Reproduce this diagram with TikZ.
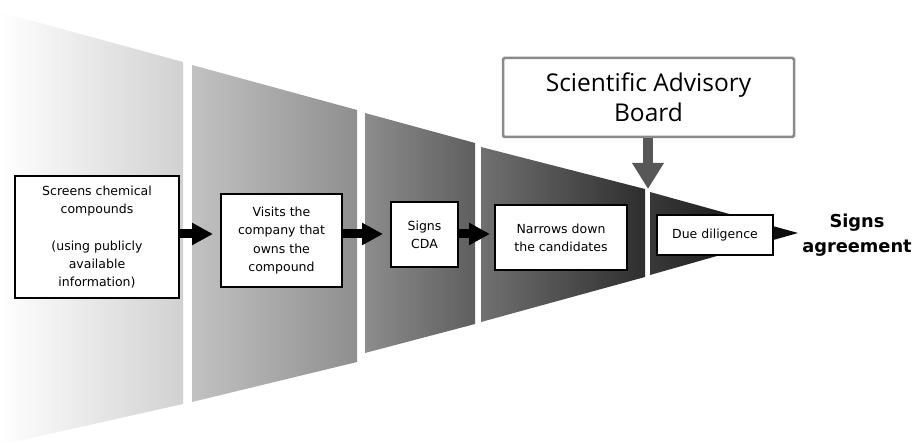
\documentclass[tikz,border=0pt]{standalone}
\usepackage{fontspec}
\setmainfont{DejaVu Sans}
\newfontfamily\sabfont{Open Sans}
\usetikzlibrary{arrows.meta}
\definecolor{sabgray}{HTML}{8A8A8A}
\definecolor{arrgray}{HTML}{575757}
\begin{document}
\begin{tikzpicture}[x=1pt,y=-1pt,
  stepbox/.style={draw=black, line width=2pt, fill=white, align=center,
    font=\fontsize{12.5}{18.3}\selectfont, inner sep=0pt},
  flow/.style={line width=9pt, -{Triangle[length=21pt,width=21pt]}},
]
\useasboundingbox (0,0) rectangle (914,446);

% funnel segments
\shade[left color=white, right color=black!18]
  (0,12) -- (183,62) -- (183,404) -- (0,445) -- cycle;
\shade[left color=black!24, right color=black!44]
  (192,65) -- (357,110) -- (357,362) -- (192,402) -- cycle;
\shade[left color=black!45, right color=black!63]
  (365,113) -- (475,143) -- (475,324) -- (365,353) -- cycle;
\shade[left color=black!56, right color=black!82]
  (481,147) -- (645,189) -- (645,277) -- (481,322) -- cycle;
\shade[left color=black!78, right color=black!97]
  (650,192) -- (798,233) -- (650,275) -- cycle;

% boxes
\node[stepbox, minimum width=164pt, minimum height=122pt] (b1) at (97,237)
  {Screens chemical\\compounds\\[18.3pt](using publicly\\available\\information)};
\node[stepbox, minimum width=121pt, minimum height=93pt] (b2) at (281.5,240.5)
  {Visits the\\company that\\owns the\\compound};
\node[stepbox, minimum width=67pt, minimum height=65pt] (b3) at (424.5,234.5)
  {Signs\\CDA};
\node[stepbox, minimum width=132pt, minimum height=65pt] (b4) at (561,237.5)
  {Narrows down\\the candidates};
\node[stepbox, minimum width=116pt, minimum height=40pt] (b5) at (715,235)
  {Due diligence};

\node[draw=sabgray, line width=2.5pt, rounded corners=1.5pt, fill=white,
  minimum width=291pt, minimum height=79pt, align=center, inner sep=0pt,
  font=\sabfont\fontsize{24.5}{30}\selectfont] (sab) at (648.5,97.5)
  {Scientific Advisory\\Board};

\node[align=center, font=\bfseries\fontsize{17.8}{25}\selectfont] (agr) at (857,235)
  {Signs\\agreement};

% arrows
\coordinate (t1) at (213,234);
\coordinate (t2) at (383,234);
\coordinate (t3) at (490,234);
\coordinate (tsab) at (648,189);
\draw[flow] (b1.east |- t1) -- (t1);
\draw[flow] (b2.east |- t2) -- (t2);
\draw[flow] (b3.east |- t3) -- (t3);
\draw[arrgray, line width=10pt, -{Triangle[length=26pt,width=30pt]}]
  (sab.south -| tsab) -- (tsab);
\end{tikzpicture}
\end{document}
